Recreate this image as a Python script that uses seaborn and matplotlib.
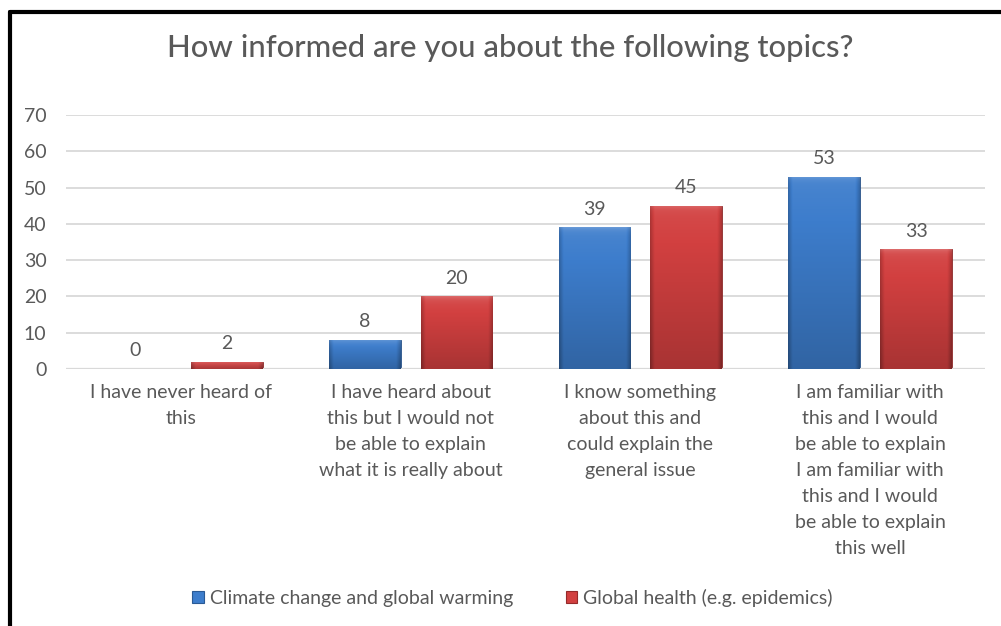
import numpy as np
import pandas as pd
import matplotlib
matplotlib.use("Agg")
import matplotlib.pyplot as plt
from matplotlib.patches import Patch
from matplotlib.lines import Line2D
import seaborn as sns

categories = [
    "I have never heard of\nthis",
    "I have heard about\nthis but I would not\nbe able to explain\nwhat it is really about",
    "I know something\nabout this and\ncould explain the\ngeneral issue",
    "I am familiar with\nthis and I would\nbe able to explain\nI am familiar with\nthis and I would\nbe able to explain\nthis well",
]
series_names = ["Climate change and global warming", "Global health (e.g. epidemics)"]
climate = [0, 8, 39, 53]
health = [2, 20, 45, 33]
y_ticks = [0, 10, 20, 30, 40, 50, 60, 70]

title = "How informed are you about the following topics?"

df = pd.DataFrame({
    "category": categories * 2,
    "topic": [series_names[0]] * 4 + [series_names[1]] * 4,
    "value": climate + health,
})

sns.set_theme(style="white")
plt.rcParams["font.family"] = ["Lato", "DejaVu Sans"]

text_color = "#595959"
grid_color = "#D9D9D9"
base_colors = {series_names[0]: "#3D7DCC", series_names[1]: "#D24040"}
fs = 14

fig = plt.figure(figsize=(10.01, 6.26), dpi=100)
fig.patch.set_facecolor("white")
ax = fig.add_axes([66 / 1001, (626 - 369) / 626, 919 / 1001, 254 / 626])

sns.barplot(
    data=df, x="category", y="value", hue="topic", order=categories,
    hue_order=series_names, palette=base_colors, width=0.8, gap=0.22,
    saturation=1, legend=False, ax=ax, linewidth=0,
)

ax.set_xlim(-0.5, 3.5)
ax.set_ylim(0, 70)
ax.set_yticks(y_ticks)
ax.set_xlabel("")
ax.set_ylabel("")
ax.grid(axis="y", color=grid_color, linewidth=1.3)
ax.set_axisbelow(True)
for s in ["top", "right", "left", "bottom"]:
    ax.spines[s].set_visible(False)
ax.axhline(0, color=grid_color, linewidth=1.6, zorder=1)
ax.tick_params(axis="y", length=0, pad=14, labelsize=fs, labelcolor=text_color)
ax.tick_params(axis="x", length=0, pad=11, labelsize=fs, labelcolor=text_color)
for lbl in ax.get_xticklabels():
    lbl.set_linespacing(1.64)


def shade(rgb, f):
    rgb = np.asarray(rgb)
    if f >= 0:
        return rgb + (1 - rgb) * f
    return rgb * (1 + f)


# Bevelled gradient fill for each bar, clipped to the bar shape
bar_values = climate + health
for patch, val in zip(ax.patches, bar_values):
    rgb = np.array(matplotlib.colors.to_rgb(patch.get_facecolor()))
    x0, y0 = patch.get_x(), patch.get_y()
    w, h = patch.get_width(), patch.get_height()
    if h <= 0:
        continue
    ny, nx = 200, 80
    yy = np.linspace(1, 0, ny)[:, None]   # 1 at top, 0 at bottom
    xx = np.linspace(0, 1, nx)[None, :]
    vert = 0.06 * yy - 0.2 * (1 - yy)
    side = -0.22 * np.clip(1 - np.minimum(xx, 1 - xx) / 0.06, 0, 1)
    f = vert + side
    img = np.zeros((ny, nx, 3))
    for c in range(3):
        img[..., c] = np.where(f >= 0, rgb[c] + (1 - rgb[c]) * f, rgb[c] * (1 + f))
    # soft highlight fading down from the top edge
    top_px = h * 254 / 70
    depth = np.linspace(0, top_px, ny)[:, None]
    glow = 0.18 * np.exp(-depth / 3.0)
    img = img + (1 - img) * glow[..., None]
    im = ax.imshow(np.clip(img, 0, 1), extent=(x0, x0 + w, y0, y0 + h),
                   aspect="auto", zorder=patch.get_zorder() + 0.1,
                   interpolation="bilinear")
    im.set_clip_path(patch)
    patch.set_edgecolor(shade(rgb, -0.35))
    patch.set_linewidth(0.6)

# value labels
for patch, val in zip(ax.patches, bar_values):
    ax.annotate(f"{val}", (patch.get_x() + patch.get_width() / 2, patch.get_height()),
                xytext=(0, 7), textcoords="offset points", ha="center", va="bottom",
                fontsize=fs, color=text_color)

ax.set_xlim(-0.5, 3.5)
ax.set_ylim(0, 70)

fig.text(0.51, 1 - 48 / 626, title, ha="center", va="center",
         fontsize=22.3, color=text_color, fontweight="medium")

handles = [
    Patch(facecolor=base_colors[series_names[0]], edgecolor="#2A5A95", linewidth=0.8),
    Patch(facecolor=base_colors[series_names[1]], edgecolor="#952A2A", linewidth=0.8),
]
fig.legend(handles, series_names, loc="center", bbox_to_anchor=(0.512, 1 - 598 / 626),
           ncol=2, frameon=False, fontsize=fs, labelcolor=text_color,
           handlelength=0.6, handleheight=0.6, handletextpad=0.3, columnspacing=2.7)

# chart frame (top and left edges)
fig.add_artist(Line2D([10 / 1001, 1], [1 - 11.5 / 626, 1 - 11.5 / 626],
                      color="black", linewidth=3, transform=fig.transFigure))
fig.add_artist(Line2D([10 / 1001, 10 / 1001], [0, 1 - 11.5 / 626],
                      color="black", linewidth=3, transform=fig.transFigure))

fig.savefig("out.png", dpi=100, facecolor="white")
